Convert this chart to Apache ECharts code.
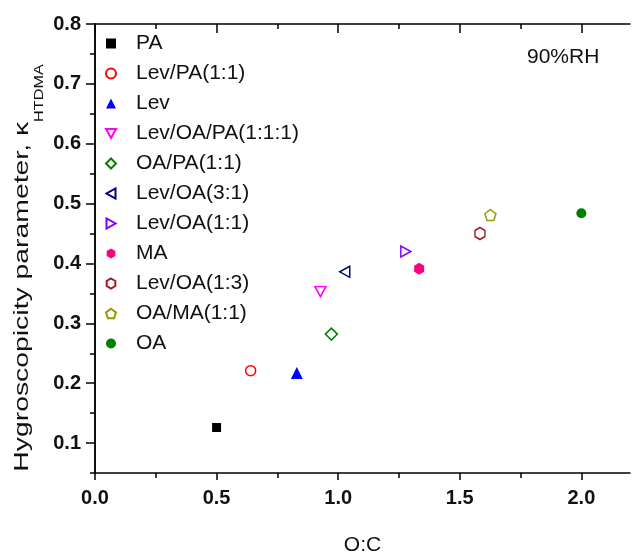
<!DOCTYPE html>
<html>
<head>
<meta charset="utf-8">
<script src="https://cdn.jsdelivr.net/npm/echarts@6/dist/echarts.min.js"></script>
<style>
html,body{margin:0;padding:0;background:#fff;}
#c{width:632px;height:559px;}
</style>
</head>
<body>
<div id="c"></div>
<script>
// ---- data ----
var names = ['PA','Lev/PA(1:1)','Lev','Lev/OA/PA(1:1:1)','OA/PA(1:1)','Lev/OA(3:1)','Lev/OA(1:1)','MA','Lev/OA(1:3)','OA/MA(1:1)','OA'];
var oc    = [0.50, 0.64, 0.83, 0.927, 0.972, 1.027, 1.278, 1.333, 1.583, 1.626, 2.00];
var kappa = [0.126, 0.221, 0.217, 0.353, 0.282, 0.386, 0.420, 0.391, 0.450, 0.481, 0.484];
var xMajorTicks = [0, 0.5, 1.0, 1.5, 2.0];
var xMinorTicks = [0.25, 0.75, 1.25, 1.75];
var yMajorTicks = [0.1, 0.2, 0.3, 0.4, 0.5, 0.6, 0.7, 0.8];
var yMinorTicks = [0.05, 0.15, 0.25, 0.35, 0.45, 0.55, 0.65, 0.75];

// ---- styles ----
var styles = [
  {symbol:'rect', size:9, color:'#000000', fill:true},
  {symbol:'circle', size:10, color:'#ff0000', fill:false},
  {symbol:'triangle', size:12, color:'#0000ff', fill:true},
  {symbol:'path://M0,0 L10,0 L5,9 Z', size:[11,10], color:'#ff00ff', fill:false},
  {symbol:'diamond', size:[12,12], color:'#008000', fill:false},
  {symbol:'path://M9,0 L9,10 L0,5 Z', size:[10,11], color:'#000080', fill:false},
  {symbol:'path://M0,0 L0,10 L9,5 Z', size:[10,11], color:'#8000ff', fill:false},
  {symbol:'path://M5,0 L9.33,2.5 L9.33,7.5 L5,10 L0.67,7.5 L0.67,2.5 Z', size:[10,12], color:'#ff0080', fill:true},
  {symbol:'path://M5,0 L9.33,2.5 L9.33,7.5 L5,10 L0.67,7.5 L0.67,2.5 Z', size:[10,12], color:'#a01818', fill:false},
  {symbol:'path://M5,0 L9.76,3.45 L7.94,9.05 L2.06,9.05 L0.24,3.45 Z', size:[11,11], color:'#999900', fill:false},
  {symbol:'circle', size:10, color:'#008000', fill:true}
];

var series = names.map(function(n, i){
  var s = styles[i];
  return {
    name: n,
    type: 'scatter',
    xAxisIndex: 0, yAxisIndex: 0,
    symbol: s.symbol,
    symbolSize: s.size,
    data: [[oc[i], kappa[i]]],
    itemStyle: s.fill ? {color: s.color, borderWidth: 0, opacity: 1} : {color: '#ffffff', borderColor: s.color, borderWidth: 1.5, opacity: 1},
    emphasis: {disabled: true}
  };
});

var lineStyle = {color:'#000', width:1.5};
var font = 'Liberation Sans, Arial, sans-serif';

var chart = echarts.init(document.getElementById('c'));
chart.setOption({
  animation: false,
  backgroundColor: '#fff',
  grid: {left: 95, right: 2, top: 24, bottom: 86, outerBoundsMode: 'none', containLabel: false},
  legend: {
    left: 100, top: 28, orient: 'vertical',
    itemWidth: 10, itemHeight: 10, itemGap: 9,
    textStyle: {fontSize: 21, fontFamily: font, color: '#111', lineHeight: 21, padding: [0,0,0,15]},
    data: names
  },
  xAxis: [
    {type:'value', position:'bottom', min:0, max:2.2,
     axisLine:{show:true, lineStyle:lineStyle},
     axisTick:{show:true, inside:false, length:7, lineStyle:lineStyle, customValues: xMajorTicks},
     axisLabel:{show:true, customValues: xMajorTicks, margin:15, fontSize:20, fontWeight:'bold', fontFamily:font, color:'#111',
       formatter:function(v){return v.toFixed(1);}},
     splitLine:{show:false},
     name:'O:C', nameLocation:'middle', nameGap:62,
     nameTextStyle:{fontSize:21, fontFamily:font, color:'#111'}},
    {type:'value', position:'bottom', min:0, max:2.2,
     axisLine:{show:false},
     axisTick:{show:true, inside:false, length:5, lineStyle:lineStyle, customValues: xMinorTicks},
     axisLabel:{show:false}, splitLine:{show:false}},
    {type:'value', position:'top', min:0, max:2.2,
     axisLine:{show:true, lineStyle:lineStyle},
     axisTick:{show:true, inside:true, length:9, lineStyle:lineStyle, customValues: xMajorTicks},
     axisLabel:{show:false}, splitLine:{show:false}},
    {type:'value', position:'top', min:0, max:2.2,
     axisLine:{show:false},
     axisTick:{show:true, inside:true, length:5, lineStyle:lineStyle, customValues: xMinorTicks},
     axisLabel:{show:false}, splitLine:{show:false}}
  ],
  yAxis: [
    {type:'value', position:'left', min:0.05, max:0.8,
     axisLine:{show:true, lineStyle:lineStyle},
     axisTick:{show:true, inside:false, length:9, lineStyle:lineStyle, customValues: yMajorTicks},
     axisLabel:{show:true, customValues: yMajorTicks, margin:14, fontSize:20, fontWeight:'bold', fontFamily:font, color:'#111',
       formatter:function(v){return v.toFixed(1);}},
     splitLine:{show:false}},
    {type:'value', position:'left', min:0.05, max:0.8,
     axisLine:{show:false},
     axisTick:{show:true, inside:false, length:5, lineStyle:lineStyle, customValues: yMinorTicks},
     axisLabel:{show:false}, splitLine:{show:false}},
    {type:'value', position:'right', min:0.05, max:0.8,
     axisLine:{show:true, lineStyle:lineStyle},
     axisTick:{show:true, inside:true, length:7, lineStyle:lineStyle, customValues: yMajorTicks},
     axisLabel:{show:false}, splitLine:{show:false}},
    {type:'value', position:'right', min:0.05, max:0.8,
     axisLine:{show:false},
     axisTick:{show:true, inside:true, length:4, lineStyle:lineStyle, customValues: yMinorTicks},
     axisLabel:{show:false}, splitLine:{show:false}}
  ],
  graphic: [
    {type:'text', left:527, top:47, style:{text:'90%RH', fontSize:21, fontFamily:font, fill:'#111'}},
    {type:'text', x:24, y:268, rotation:Math.PI/2, scaleX:1.35, scaleY:1,
     style:{
       text:'{a|Hygroscopicity parameter, κ}{b|HTDMA}',
       align:'center', verticalAlign:'middle',
       rich:{
         a:{fontSize:21, fontFamily:font, fill:'#111', lineHeight:24, verticalAlign:'top'},
         b:{fontSize:12, fontFamily:font, fill:'#111', lineHeight:12, verticalAlign:'top', padding:[22,0,0,0]}
       }
     }}
  ],
  series: series
});
</script>
</body>
</html>
